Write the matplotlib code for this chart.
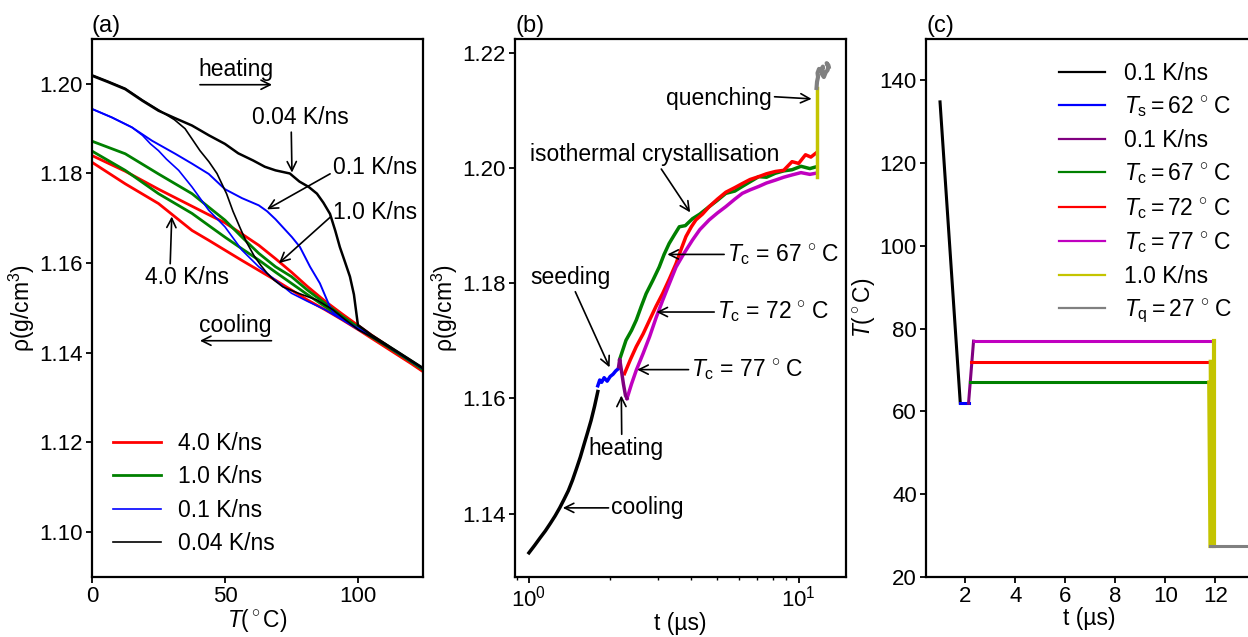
import numpy as np
import matplotlib.pyplot as plt

plt.rcParams['font.family'] = ['Liberation Sans', 'DejaVu Sans']
plt.rcParams['mathtext.fontset'] = 'custom'
plt.rcParams['mathtext.rm'] = 'Liberation Sans'
plt.rcParams['mathtext.it'] = 'Liberation Sans:italic'
plt.rcParams['font.size'] = 16.5
plt.rcParams['axes.linewidth'] = 1.6

#------------------------------------------------------------------------------
#   Data
#------------------------------------------------------------------------------
# (a) density vs temperature, heating and cooling for each rate
tail_T = [105, 110, 115, 120, 124.5]

a_T_black_heat = [0, 6, 12.5, 19, 25, 31, 37.6, 44, 50, 55, 60.6, 65, 69, 74.4, 78, 81.5,
                  84.6, 87, 89.5, 91.5, 93.2, 95, 97, 98.5, 100] + tail_T
a_rho_black_heat = [1.2018, 1.2004, 1.1988, 1.1962, 1.1940, 1.1924, 1.1907, 1.1885, 1.1866,
                    1.1845, 1.1829, 1.1815, 1.1807, 1.1800, 1.1782, 1.1770, 1.1755, 1.1735,
                    1.1710, 1.1672, 1.1636, 1.1605, 1.1570, 1.1530, 1.1462,
                    1.1440, 1.1421, 1.1402, 1.1383, 1.1366]

a_T_black_cool = [0, 6, 12.5, 19, 25, 31, 35, 40.6, 44, 47, 50.6, 53, 55.6, 58, 61, 63.5,
                  65.8, 68.5, 71.8, 78, 84.5, 90.6, 95, 100.3] + tail_T
a_rho_black_cool = [1.2020, 1.2006, 1.1990, 1.1964, 1.1942, 1.1920, 1.1900, 1.1851, 1.1826,
                    1.1800, 1.1755, 1.1716, 1.1680, 1.1648, 1.1616, 1.1595, 1.1578, 1.1562,
                    1.1547, 1.1532, 1.1518, 1.1496, 1.1475, 1.1451,
                    1.1436, 1.1418, 1.1400, 1.1381, 1.1365]

a_T_blue_heat = [0, 7.5, 15, 22.6, 31.3, 37.6, 43.9, 50, 56.4, 62.7, 65.8, 69, 75.2, 78.2,
                 82, 85.7, 89.5, 91, 95, 100] + tail_T
a_rho_blue_heat = [1.1944, 1.1925, 1.1903, 1.1873, 1.1844, 1.1822, 1.1799, 1.1765, 1.1745,
                   1.1729, 1.1716, 1.1698, 1.1658, 1.1636, 1.1592, 1.1555, 1.1502, 1.1488,
                   1.1472, 1.1455,
                   1.1438, 1.1420, 1.1401, 1.1382, 1.1365]

a_T_blue_cool = [0, 7.5, 15, 19, 22, 25, 28, 32.6, 37.6, 43.9, 50, 56.4, 62.7, 69, 75,
                 81, 87.7, 94, 100.3] + tail_T
a_rho_blue_cool = [1.1944, 1.1925, 1.1903, 1.1885, 1.1866, 1.1851, 1.1832, 1.1807, 1.1770,
                   1.1718, 1.1681, 1.1629, 1.1592, 1.1562, 1.1533, 1.1515, 1.1496, 1.1474,
                   1.1451,
                   1.1437, 1.1419, 1.1400, 1.1381, 1.1364]

a_T_gr = [0, 12.5, 25, 37.6, 43.9, 50, 56.4, 62.7, 69, 75, 81, 87.7, 94, 100.3] + tail_T
a_rho_green_heat = [1.1872, 1.1844, 1.1799, 1.1755, 1.1725, 1.1696, 1.1658, 1.1622, 1.1592,
                    1.1570, 1.1540, 1.1510, 1.1482, 1.1456,
                    1.1438, 1.1420, 1.1401, 1.1382, 1.1364]
a_rho_green_cool = [1.1850, 1.1807, 1.1755, 1.1711, 1.1684, 1.1658, 1.1632, 1.1607, 1.1580,
                    1.1555, 1.1530, 1.1503, 1.1478, 1.1454,
                    1.1436, 1.1418, 1.1399, 1.1380, 1.1362]
a_rho_red_heat = [1.1840, 1.1805, 1.1765, 1.1727, 1.1708, 1.1690, 1.1665, 1.1640, 1.1610,
                  1.1580, 1.1548, 1.1515, 1.1487, 1.1460,
                  1.1440, 1.1420, 1.1399, 1.1378, 1.1360]
a_rho_red_cool = [1.1825, 1.1777, 1.1733, 1.1673, 1.1651, 1.1629, 1.1606, 1.1584, 1.1562,
                  1.1540, 1.1518, 1.1496, 1.1474, 1.1451,
                  1.1433, 1.1414, 1.1395, 1.1376, 1.1358]

# (b) density vs time during the protocol
b_t_cool = [1.0, 1.05, 1.1, 1.15, 1.2, 1.25, 1.3, 1.35, 1.4, 1.45, 1.5, 1.55, 1.6, 1.65,
            1.7, 1.75, 1.8]
b_rho_cool = [1.1332, 1.1345, 1.1358, 1.1370, 1.1383, 1.1396, 1.1410, 1.1425, 1.1440, 1.1458,
              1.1478, 1.1498, 1.1520, 1.1541, 1.1562, 1.1586, 1.1612]
b_t_seed = [1.80, 1.83, 1.86, 1.90, 1.95, 2.00, 2.05, 2.10, 2.15]
b_rho_seed = [1.1622, 1.1632, 1.1628, 1.1636, 1.1630, 1.1638, 1.1642, 1.1648, 1.1652]
b_t_heat = [2.15, 2.17, 2.20, 2.24, 2.28, 2.31]
b_rho_heat = [1.1655, 1.1668, 1.1650, 1.1625, 1.1605, 1.1600]
b_t_67 = [2.17, 2.29, 2.40, 2.50, 2.61, 2.72, 2.88, 3.04, 3.17, 3.31, 3.46, 3.61, 3.80,
          4.04, 4.30, 4.66, 5.0, 5.37, 5.8, 6.18, 6.6, 7.11, 7.6, 8.2, 8.8, 9.45, 10.2,
          11.0, 11.6]
b_rho_67 = [1.1668, 1.1701, 1.1718, 1.1736, 1.1760, 1.1782, 1.1805, 1.1828, 1.1850, 1.1869,
            1.1884, 1.1898, 1.1900, 1.1912, 1.1920, 1.1933, 1.1944, 1.1956, 1.1960, 1.1968,
            1.1976, 1.1985, 1.1984, 1.1991, 1.1995, 1.1997, 1.2003, 1.1999, 1.2002]
b_t_72 = [2.26, 2.38, 2.50, 2.65, 2.80, 2.96, 3.13, 3.32, 3.51, 3.66, 3.82, 4.0, 4.16,
          4.40, 4.66, 5.0, 5.37, 5.8, 6.18, 6.6, 7.11, 7.6, 8.2, 8.8, 9.45, 10.0, 10.6,
          11.1, 11.6]
b_rho_72 = [1.1643, 1.1668, 1.1690, 1.1712, 1.1736, 1.1760, 1.1782, 1.1808, 1.1834, 1.1858,
            1.1881, 1.1898, 1.1910, 1.1920, 1.1933, 1.1946, 1.1958, 1.1966, 1.1973, 1.1980,
            1.1985, 1.1990, 1.1994, 1.1996, 1.2011, 1.2008, 1.2023, 1.2019, 1.2026]
b_t_77 = [2.31, 2.40, 2.50, 2.65, 2.80, 2.96, 3.13, 3.32, 3.51, 3.76, 4.04, 4.30, 4.66,
          5.0, 5.37, 5.8, 6.18, 6.6, 7.11, 7.6, 8.2, 8.8, 9.45, 10.2, 11.0, 11.6]
b_rho_77 = [1.1600, 1.1625, 1.1649, 1.1678, 1.1707, 1.1740, 1.1770, 1.1800, 1.1828, 1.1852,
            1.1875, 1.1893, 1.1910, 1.1922, 1.1933, 1.1946, 1.1956, 1.1962, 1.1968, 1.1974,
            1.1979, 1.1984, 1.1988, 1.1992, 1.1989, 1.1991]
b_t_quench = [11.65, 11.65]
b_rho_quench = [1.1985, 1.2139]
b_t_q = [11.65, 11.7, 11.8, 11.75, 11.9, 12.1, 12.3, 12.2, 12.4, 12.6, 12.8, 12.9, 12.7, 12.9]
b_rho_q = [1.2139, 1.2150, 1.2158, 1.2165, 1.2172, 1.2168, 1.2176, 1.2163, 1.2158, 1.2166,
           1.2170, 1.2178, 1.2182, 1.2175]

# (c) temperature protocol
c_t_cool, c_T_cool = [0.99, 1.80], [134.8, 62]
c_t_seed, c_T_seed = [1.80, 2.13], [62, 62]
c_t_heat, c_T_heat = [2.13, 2.33], [62, 77]
c_t_67, c_T_67 = [2.17, 11.75], [67, 67]
c_t_72, c_T_72 = [2.23, 11.81], [72, 72]
c_t_77, c_T_77 = [2.33, 11.95], [77, 77]
c_t_quench = [[11.75, 11.80], [11.81, 11.86], [11.95, 11.95]]
c_T_quench = [[67, 27.5], [72, 27.5], [77, 27.5]]
c_t_q, c_T_q = [11.8, 13.22], [27.5, 27.5]

GREEN = '#008000'
MAGENTA = '#c000c0'
PURPLE = '#800080'
YELLOW = '#c4c400'
arrow = dict(arrowstyle='->', color='k', lw=1.2, shrinkA=0, shrinkB=0)

#------------------------------------------------------------------------------
#   Figure
#------------------------------------------------------------------------------
fig = plt.figure(figsize=(12.48, 6.37), dpi=100)
ax_a = fig.add_axes([0.0737, 0.0942, 0.2653, 0.8446])
ax_b = fig.add_axes([0.4127, 0.0942, 0.2653, 0.8446])
ax_c = fig.add_axes([0.742, 0.0942, 0.262, 0.8446])

for ax in (ax_a, ax_b, ax_c):
    ax.tick_params(direction='out', length=4, width=1.3, labelsize=16, pad=2.5)

# ---------------- (a)
ax_a.plot(a_T_gr, a_rho_red_heat, color='red', lw=2)
ax_a.plot(a_T_gr, a_rho_red_cool, color='red', lw=2, label='4.0 K/ns')
ax_a.plot(a_T_gr, a_rho_green_heat, color=GREEN, lw=2)
ax_a.plot(a_T_gr, a_rho_green_cool, color=GREEN, lw=2, label='1.0 K/ns')
ax_a.plot(a_T_blue_heat, a_rho_blue_heat, color='blue', lw=1.4)
ax_a.plot(a_T_blue_cool, a_rho_blue_cool, color='blue', lw=1.2, label='0.1 K/ns')
ax_a.plot(a_T_black_heat, a_rho_black_heat, color='k', lw=1.8)
ax_a.plot(a_T_black_cool, a_rho_black_cool, color='k', lw=1.2, label='0.04 K/ns')
ax_a.set_xlim(0, 124.5)
ax_a.set_ylim(1.09, 1.21)
ax_a.set_xticks([0, 50, 100])
ax_a.set_yticks([1.10, 1.12, 1.14, 1.16, 1.18, 1.20])
ax_a.set_yticklabels(['%.2f' % v for v in ax_a.get_yticks()])
ax_a.set_xlabel(r'$T(^\circ$C)', labelpad=0)
ax_a.set_ylabel(r'ρ(g/cm$^3$)', labelpad=2)
ax_a.legend(loc='lower left', bbox_to_anchor=(0.036, 0.024), frameon=False,
            handlelength=2.1, handletextpad=0.75, labelspacing=0.45, borderaxespad=0)
ax_a.text(0, 1.003, '(a)', transform=ax_a.transAxes, ha='left', va='bottom', fontsize=17)

ax_a.text(54, 1.2033, 'heating', ha='center', va='center')
ax_a.annotate('', xy=(67.7, 1.1998), xytext=(40.6, 1.1998), arrowprops=arrow)
ax_a.text(54, 1.1462, 'cooling', ha='center', va='center')
ax_a.annotate('', xy=(40.6, 1.1427), xytext=(67.5, 1.1427), arrowprops=arrow)
ax_a.annotate('0.04 K/ns', xy=(75.2, 1.1802), xytext=(78.2, 1.1924), ha='center', va='center',
              arrowprops=dict(arrow, relpos=(0.41, 0)))
ax_a.annotate('0.1 K/ns', xy=(65.8, 1.1720), xytext=(106.4, 1.1813), ha='center', va='center',
              arrowprops=dict(arrow, relpos=(0, 0.3)))
ax_a.annotate('1.0 K/ns', xy=(70.3, 1.1600), xytext=(106.4, 1.1713), ha='center', va='center',
              arrowprops=dict(arrow, relpos=(0, 0.4)))
ax_a.annotate('4.0 K/ns', xy=(30, 1.1704), xytext=(35.7, 1.1567), ha='center', va='center',
              arrowprops=dict(arrow, relpos=(0.3, 1.0)))

# ---------------- (b)
ax_b.plot(b_t_cool, b_rho_cool, color='k', lw=2.5)
ax_b.plot(b_t_seed, b_rho_seed, color='blue', lw=2.5)
ax_b.plot(b_t_67, b_rho_67, color=GREEN, lw=2.5)
ax_b.plot(b_t_72, b_rho_72, color='red', lw=2.5)
ax_b.plot(b_t_77, b_rho_77, color=MAGENTA, lw=2.5)
ax_b.plot(b_t_heat, b_rho_heat, color=PURPLE, lw=2.5)
ax_b.plot(b_t_quench, b_rho_quench, color=YELLOW, lw=2.5)
ax_b.plot(b_t_q, b_rho_q, color='gray', lw=3)
ax_b.set_xscale('log')
ax_b.set_xlim(0.888, 15.0)
ax_b.set_ylim(1.129, 1.2224)
ax_b.set_yticks([1.14, 1.16, 1.18, 1.20, 1.22])
ax_b.set_yticklabels(['%.2f' % v for v in ax_b.get_yticks()])
ax_b.tick_params(which='minor', direction='out', length=2.5, width=1)
ax_b.set_xlabel('t (µs)', labelpad=0)
ax_b.set_ylabel(r'ρ(g/cm$^3$)', labelpad=2)
ax_b.text(0, 1.003, '(b)', transform=ax_b.transAxes, ha='left', va='bottom', fontsize=17)

ax_b.annotate('quenching', xy=(11.17, 1.2120), xytext=(7.95, 1.2120), ha='right', va='center',
              arrowprops=dict(arrow, relpos=(1, 0.6)))
ax_b.annotate('isothermal crystallisation', xy=(3.96, 1.1923), xytext=(2.92, 1.2023),
              ha='center', va='center', arrowprops=dict(arrow, relpos=(0.52, 0)))
ax_b.annotate(r'$T_{\rm c}$ = 67$\,^\circ\,$C', xy=(3.26, 1.1850), xytext=(5.42, 1.1850),
              ha='left', va='center', arrowprops=dict(arrow, relpos=(0, 0.5)))
ax_b.annotate(r'$T_{\rm c}$ = 72$\,^\circ\,$C', xy=(2.97, 1.1750), xytext=(4.98, 1.1750),
              ha='left', va='center', arrowprops=dict(arrow, relpos=(0, 0.5)))
ax_b.annotate(r'$T_{\rm c}$ = 77$\,^\circ\,$C', xy=(2.52, 1.1650), xytext=(4.0, 1.1650),
              ha='left', va='center', arrowprops=dict(arrow, relpos=(0, 0.5)))
ax_b.annotate('seeding', xy=(1.99, 1.1654), xytext=(1.42, 1.1810), ha='center', va='center',
              arrowprops=dict(arrow, relpos=(0.55, 0)))
ax_b.annotate('heating', xy=(2.20, 1.1605), xytext=(2.28, 1.1513), ha='center', va='center',
              arrowprops=dict(arrow, relpos=(0.45, 1)))
ax_b.annotate('cooling', xy=(1.335, 1.1410), xytext=(2.02, 1.1410), ha='left', va='center',
              arrowprops=dict(arrow, relpos=(0, 0.5)))

# ---------------- (c)
ax_c.plot(c_t_cool, c_T_cool, color='k', lw=2.2, label='0.1 K/ns')
ax_c.plot(c_t_seed, c_T_seed, color='blue', lw=2.2, label=r'$T_{\rm s} = 62\,^\circ\,$C')
ax_c.plot(c_t_heat, c_T_heat, color=PURPLE, lw=2.2, label='0.1 K/ns')
ax_c.plot(c_t_67, c_T_67, color=GREEN, lw=2.2, label=r'$T_{\rm c} = 67\,^\circ\,$C')
ax_c.plot(c_t_72, c_T_72, color='red', lw=2.2, label=r'$T_{\rm c} = 72\,^\circ\,$C')
ax_c.plot(c_t_77, c_T_77, color=MAGENTA, lw=2.2, label=r'$T_{\rm c} = 77\,^\circ\,$C')
for i, (tt, TT) in enumerate(zip(c_t_quench, c_T_quench)):
    ax_c.plot(tt, TT, color=YELLOW, lw=3, label='1.0 K/ns' if i == 0 else None)
ax_c.plot(c_t_q, c_T_q, color='gray', lw=2.2, label=r'$T_{\rm q} = 27\,^\circ\,$C')
ax_c.set_xlim(0.43, 13.5)
ax_c.set_ylim(20, 150)
ax_c.set_xticks([2, 4, 6, 8, 10, 12])
ax_c.set_yticks([20, 40, 60, 80, 100, 120, 140])
ax_c.set_xlabel('t (µs)', labelpad=0)
ax_c.set_ylabel(r'$T(^\circ$C)', labelpad=2)
leg = ax_c.legend(loc='upper left', bbox_to_anchor=(0.38, 0.975), frameon=False,
                  handlelength=2.0, handletextpad=0.8, labelspacing=0.42, borderaxespad=0)
for line in leg.get_lines():
    line.set_linewidth(1.6)
ax_c.text(0, 1.003, '(c)', transform=ax_c.transAxes, ha='left', va='bottom', fontsize=17)

plt.savefig('out.png', dpi=100)
